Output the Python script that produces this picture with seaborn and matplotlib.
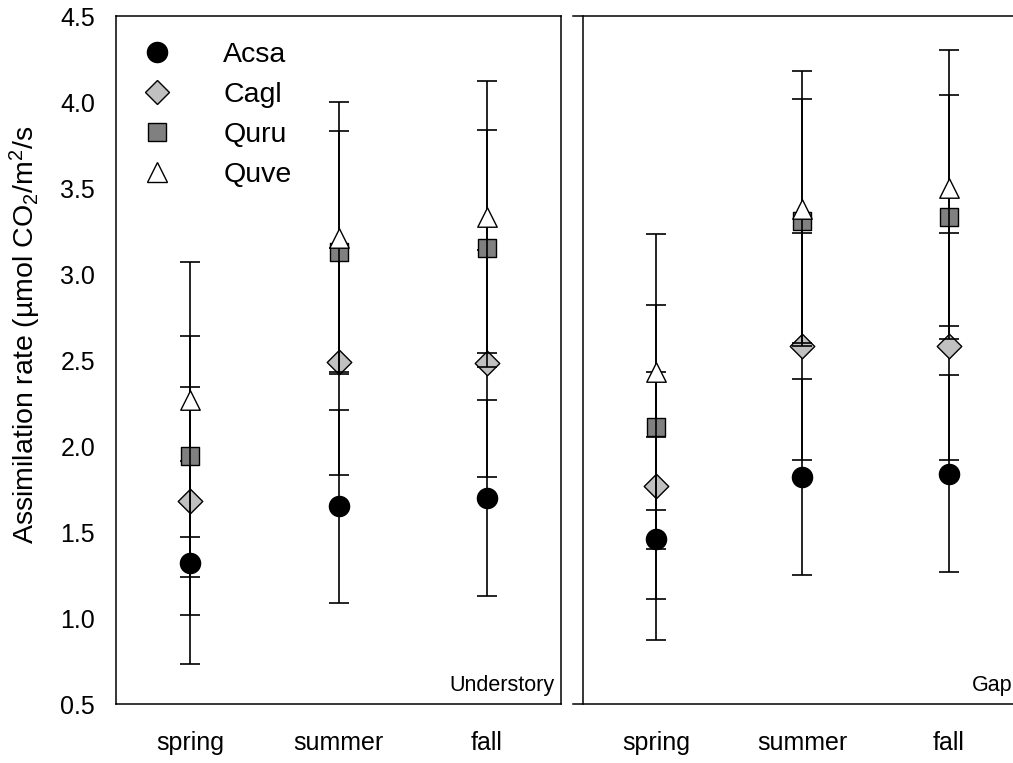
import numpy as np
import pandas as pd
import matplotlib
matplotlib.use("Agg")
import matplotlib.pyplot as plt
import matplotlib.transforms as mtrans
from matplotlib.lines import Line2D
import seaborn as sns

# ---------------- data ----------------
seasons = ["spring", "summer", "fall"]
species = ["Acsa", "Cagl", "Quru", "Quve"]

# Understory means / errors
under_acsa = [1.32, 1.65, 1.70]
under_cagl = [1.68, 2.49, 2.48]
under_quru = [1.94, 3.13, 3.15]
under_quve = [2.27, 3.21, 3.33]
under_acsa_err = [0.59, 0.56, 0.57]
under_cagl_err = [0.665, 0.66, 0.66]
under_quru_err = [0.70, 0.70, 0.69]
under_quve_err = [0.80, 0.79, 0.79]

# Gap means / errors
gap_acsa = [1.46, 1.82, 1.84]
gap_cagl = [1.77, 2.58, 2.58]
gap_quru = [2.11, 3.31, 3.33]
gap_quve = [2.43, 3.38, 3.50]
gap_acsa_err = [0.59, 0.57, 0.57]
gap_cagl_err = [0.66, 0.66, 0.66]
gap_quru_err = [0.71, 0.71, 0.71]
gap_quve_err = [0.80, 0.80, 0.80]

yticks = [0.5, 1.0, 1.5, 2.0, 2.5, 3.0, 3.5, 4.0, 4.5]

rows = []
for panel, means, errs in [
    ("Understory", [under_acsa, under_cagl, under_quru, under_quve],
     [under_acsa_err, under_cagl_err, under_quru_err, under_quve_err]),
    ("Gap", [gap_acsa, gap_cagl, gap_quru, gap_quve],
     [gap_acsa_err, gap_cagl_err, gap_quru_err, gap_quve_err]),
]:
    for sp, m, e in zip(species, means, errs):
        for i, s in enumerate(seasons):
            rows.append(dict(panel=panel, species=sp, season=s, x=i + 1, y=m[i], err=e[i]))
df = pd.DataFrame(rows)

# ---------------- style ----------------
sns.set_theme(style="white")
plt.rcParams["font.family"] = ["Liberation Sans", "DejaVu Sans"]
plt.rcParams["mathtext.default"] = "regular"
plt.rcParams["axes.linewidth"] = 1.1
plt.rcParams["text.color"] = "black"
plt.rcParams["axes.labelcolor"] = "black"

markers = {"Acsa": "o", "Cagl": "D", "Quru": "s", "Quve": "^"}
fills = {"Acsa": "#000000", "Cagl": "#c0c0c0", "Quru": "#808080", "Quve": "#ffffff"}
msizes = {"Acsa": 14.5, "Cagl": 12.5, "Quru": 13.5, "Quve": 14.0}

W, H = 1013, 763
fig = plt.figure(figsize=(W / 100, H / 100), dpi=100)
bot = (H - 704) / H
hgt = (704 - 16) / H
axL = fig.add_axes([116 / W, bot, (561 - 116) / W, hgt])
axR = fig.add_axes([573 / W, bot, (1022 - 573) / W, hgt])

FS = 18

def draw(ax, panel):
    sub = df[df.panel == panel]
    for k, sp in enumerate(species):
        d = sub[sub.species == sp]
        ax.errorbar(d.x, d.y, yerr=d.err, fmt="none", ecolor="black",
                    elinewidth=1.2, capsize=7.5, capthick=1.2, zorder=3 + 2 * k)
        sns.scatterplot(data=d, x="x", y="y", ax=ax, marker=markers[sp],
                        color=fills[sp], edgecolor="black", linewidth=1.0,
                        s=msizes[sp] ** 2, zorder=4 + 2 * k, legend=False)
    ax.set_ylim(0.5, 4.5)
    ax.set_yticks(yticks)
    ax.set_xticks([1, 2, 3])
    ax.set_xticklabels(seasons, fontsize=FS)
    ax.set_xlabel("")
    ax.set_ylabel("")
    ax.tick_params(axis="both", direction="out", length=7, width=1.1,
                   color="black", labelcolor="black")
    ax.tick_params(axis="x", pad=12.5)
    ax.tick_params(axis="y", pad=8)
    for s in ax.spines.values():
        s.set_color("black")

draw(axL, "Understory")
axL.set_xlim(0.5, 3.5)
axL.set_yticklabels([f"{v:.1f}" for v in yticks], fontsize=FS)
axL.set_ylabel("Assimilation rate (µmol CO$_2$/m$^2$/s", fontsize=20.5,
               color="black")
axL.yaxis.set_label_coords(-0.165, 0.536)
axL.text(0.985, 0.012, "Understory", transform=axL.transAxes, ha="right",
         va="bottom", fontsize=15.5, color="black")

draw(axR, "Gap")
axR.set_xlim(0.5 - 10 / 146.5, 3.5)
axR.spines["left"].set_position(("data", 0.5))
axR.spines["right"].set_visible(False)
axR.set_yticklabels([])
tr = mtrans.blended_transform_factory(fig.transFigure, axR.transAxes)
axR.text(1012 / W, 0.012, "Gap", transform=tr, ha="right", va="bottom",
         fontsize=15.5, color="black")

handles = [Line2D([0], [0], marker=markers[sp], linestyle="none",
                  markerfacecolor=fills[sp], markeredgecolor="black",
                  markeredgewidth=1.0, markersize=msizes[sp]) for sp in species]
leg = axL.legend(handles, species, loc="upper left", bbox_to_anchor=(0.044, 0.962),
                 frameon=False, fontsize=20.5, handlelength=1.5, handletextpad=1.58,
                 labelspacing=0.49, borderpad=0, borderaxespad=0)
for t in leg.get_texts():
    t.set_color("black")

fig.savefig("out.png", dpi=100)
